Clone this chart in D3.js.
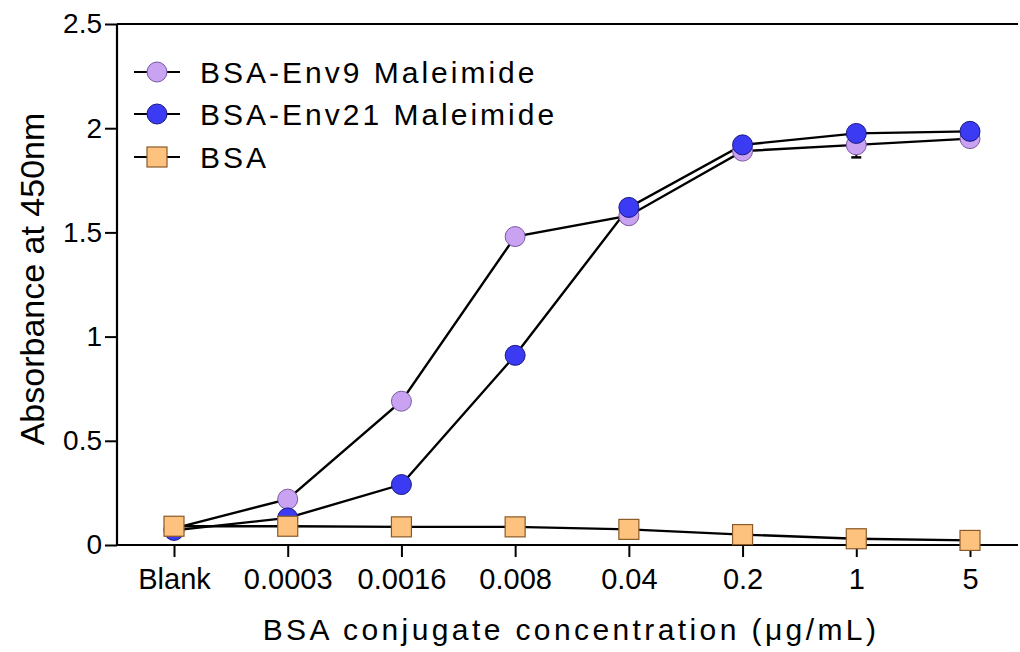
<!DOCTYPE html>
<html>
<head>
<meta charset="utf-8">
<script src="https://cdn.jsdelivr.net/npm/d3@7"></script>
<style>
  html, body { margin: 0; padding: 0; background: #fff; }
  svg { display: block; }
</style>
</head>
<body>
<svg id="chart" width="1020" height="652"></svg>
<script>
const categories = ["Blank", "0.0003", "0.0016", "0.008", "0.04", "0.2", "1", "5"];
const env9Values  = [0.08, 0.22, 0.69, 1.48, 1.58, 1.89, 1.92, 1.95];
const env9Errors  = [0.00, 0.00, 0.00, 0.00, 0.00, 0.01, 0.06, 0.01];
const env21Values = [0.07, 0.13, 0.29, 0.91, 1.62, 1.92, 1.975, 1.985];
const env21Errors = [0.00, 0.00, 0.00, 0.00, 0.00, 0.00, 0.01, 0.00];
const bsaValues   = [0.09, 0.09, 0.087, 0.087, 0.075, 0.05, 0.03, 0.022];
const bsaErrors   = [0.00, 0.00, 0.00, 0.00, 0.00, 0.00, 0.02, 0.02];
const yTicks = [0, 0.5, 1, 1.5, 2, 2.5];
const seriesNames = ["BSA-Env9 Maleimide", "BSA-Env21 Maleimide", "BSA"];
const xTitle = "BSA conjugate concentration (\u03BCg/mL)";
const yTitle = "Absorbance at 450nm";

const series = [
  { name: seriesNames[0], values: env9Values, errors: env9Errors, shape: "circle", fill: "#c9a2f2", stroke: "#7a5aa0" },
  { name: seriesNames[1], values: env21Values, errors: env21Errors, shape: "circle", fill: "#3b3bf4", stroke: "#1a1a80" },
  { name: seriesNames[2], values: bsaValues, errors: bsaErrors, shape: "square", fill: "#fec27f", stroke: "#8a5a28" }
];

const svg = d3.select("#chart");
const plotLeft = 117, plotRight = 1018, plotTop = 24, plotBottom = 545;

const x = d3.scalePoint().domain(categories).range([174, 970]);
const y = d3.scaleLinear().domain([0, 2.5]).range([plotBottom, plotTop]);

const textFont = "'Liberation Sans', Arial, sans-serif";

// frame lines
svg.append("line").attr("x1", plotLeft).attr("x2", plotRight).attr("y1", plotTop).attr("y2", plotTop)
  .attr("stroke", "#000").attr("stroke-width", 2);
svg.append("line").attr("x1", plotLeft).attr("x2", plotRight).attr("y1", plotBottom).attr("y2", plotBottom)
  .attr("stroke", "#000").attr("stroke-width", 2.2);
svg.append("line").attr("x1", plotLeft).attr("x2", plotLeft).attr("y1", plotTop).attr("y2", plotBottom)
  .attr("stroke", "#000").attr("stroke-width", 2.2);

// y axis
const yAxis = svg.append("g").attr("transform", `translate(${plotLeft},0)`)
  .call(d3.axisLeft(y).tickValues(yTicks).tickFormat(d => String(d)).tickSize(12).tickPadding(3));
yAxis.select(".domain").remove();
yAxis.selectAll(".tick line").attr("stroke", "#000").attr("stroke-width", 2);
yAxis.selectAll(".tick text").attr("font-family", textFont).attr("font-size", 28).attr("fill", "#000");

// x axis
const xAxis = svg.append("g").attr("transform", `translate(0,${plotBottom})`)
  .call(d3.axisBottom(x).tickSize(12).tickPadding(11));
xAxis.select(".domain").remove();
xAxis.selectAll(".tick line").attr("stroke", "#000").attr("stroke-width", 2);
xAxis.selectAll(".tick text").attr("font-family", textFont).attr("font-size", 29).attr("fill", "#000");

// titles
svg.append("text").attr("x", 571).attr("y", 640).attr("text-anchor", "middle")
  .attr("font-family", textFont).attr("font-size", 30).attr("letter-spacing", 3.4)
  .attr("fill", "#000").text(xTitle);
svg.append("text").attr("transform", `translate(44,279) rotate(-90)`)
  .attr("text-anchor", "middle").attr("font-family", textFont).attr("font-size", 34)
  .attr("fill", "#000").text(yTitle);

// lines
const line = d3.line().x((d, i) => x(categories[i])).y(d => y(d));
series.forEach(s => {
  svg.append("path").datum(s.values).attr("d", line).attr("fill", "none")
    .attr("stroke", "#000").attr("stroke-width", 2.4);
});

// error bars + markers
const r = 10, sq = 20;
series.forEach(s => {
  const g = svg.append("g");
  s.values.forEach((v, i) => {
    const e = s.errors[i];
    if (e > 0) {
      const cx = x(categories[i]);
      g.append("line").attr("x1", cx).attr("x2", cx).attr("y1", y(v - e)).attr("y2", y(v + e)).attr("stroke", "#000").attr("stroke-width", 2);
      g.append("line").attr("x1", cx - 5).attr("x2", cx + 5).attr("y1", y(v - e)).attr("y2", y(v - e)).attr("stroke", "#000").attr("stroke-width", 2.5);
      g.append("line").attr("x1", cx - 5).attr("x2", cx + 5).attr("y1", y(v + e)).attr("y2", y(v + e)).attr("stroke", "#000").attr("stroke-width", 2.5);
    }
  });
  s.values.forEach((v, i) => {
    const cx = x(categories[i]), cy = y(v);
    if (s.shape === "circle") {
      g.append("circle").attr("cx", cx).attr("cy", cy).attr("r", r)
        .attr("fill", s.fill).attr("stroke", s.stroke).attr("stroke-width", 1);
    } else {
      g.append("rect").attr("x", cx - sq / 2).attr("y", cy - sq / 2).attr("width", sq).attr("height", sq)
        .attr("fill", s.fill).attr("stroke", s.stroke).attr("stroke-width", 1.2);
    }
  });
});

// legend
const legendRows = [72, 114, 157];
series.forEach((s, i) => {
  const ly = legendRows[i];
  const g = svg.append("g");
  g.append("line").attr("x1", 134).attr("x2", 180).attr("y1", ly).attr("y2", ly).attr("stroke", "#000").attr("stroke-width", 2);
  if (s.shape === "circle") {
    g.append("circle").attr("cx", 157).attr("cy", ly).attr("r", r).attr("fill", s.fill).attr("stroke", s.stroke).attr("stroke-width", 1);
  } else {
    g.append("rect").attr("x", 157 - sq / 2).attr("y", ly - sq / 2).attr("width", sq).attr("height", sq)
      .attr("fill", s.fill).attr("stroke", s.stroke).attr("stroke-width", 1.2);
  }
  g.append("text").attr("x", 200).attr("y", ly + 11).attr("font-family", textFont).attr("font-size", 30)
    .attr("letter-spacing", 3).attr("fill", "#000").text(s.name);
});
</script>
</body>
</html>
